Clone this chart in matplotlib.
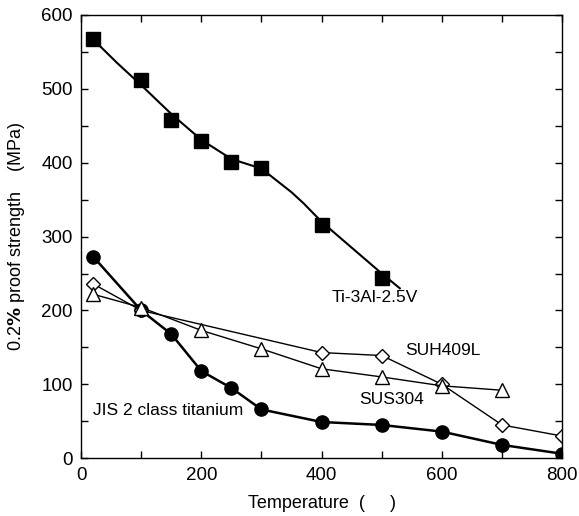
"""0.2% proof strength vs temperature"""
import numpy as np
import matplotlib.pyplot as plt
from matplotlib.ticker import MultipleLocator

plt.rcParams['font.family'] = ['Liberation Sans', 'DejaVu Sans']

# Ti-3Al-2.5V (measured points + smoothed curve)
ti_T = [20, 100, 150, 200, 250, 300, 400, 500]
ti_S = [567, 512, 458, 429, 401, 393, 316, 244]
ti_fit_T = [20, 60, 100, 150, 200, 250, 300, 350, 370, 400, 450, 500, 530]
ti_fit_S = [567, 535, 505, 466, 431, 405, 392, 360, 345, 320, 285, 250, 230]

# JIS 2 class titanium
jis_T = [20, 100, 150, 200, 250, 300, 400, 500, 600, 700, 800]
jis_S = [273, 200, 168, 118, 95, 66, 49, 45, 36, 18, 6]

# SUH409L
suh_T = [20, 100, 400, 500, 600, 700, 800]
suh_S = [236, 200, 143, 139, 100, 45, 30]

# SUS304
sus_T = [20, 100, 200, 300, 400, 500, 600, 700]
sus_S = [222, 204, 173, 148, 121, 110, 98, 92]

fig = plt.figure(figsize=(5.79, 5.16), dpi=100)
ax = fig.add_axes([0.140, 0.112, 0.831, 0.859])

ax.plot(ti_fit_T, ti_fit_S, color='black', lw=1.5)
ax.plot(ti_T, ti_S, ls='none', marker='s', ms=10, color='black')

ax.plot(jis_T, jis_S, color='black', lw=1.8, marker='o', ms=9.5)

ax.plot(suh_T, suh_S, color='black', lw=1.0, marker='D', ms=7,
        mfc='white', mec='black', mew=1.0)
ax.plot(sus_T, sus_S, color='black', lw=1.0, marker='^', ms=10,
        mfc='white', mec='black', mew=1.0)

fs = 12.5
ax.text(489, 217, "Ti-3Al-2.5V", fontsize=fs, ha='center', va='center')
ax.text(602, 146, "SUH409L", fontsize=fs, ha='center', va='center')
ax.text(516, 80, "SUS304", fontsize=fs, ha='center', va='center')
ax.text(145, 65, "JIS 2 class titanium", fontsize=fs, ha='center', va='center')

ax.set_xlim(0, 800)
ax.set_ylim(0, 600)
ax.xaxis.set_major_locator(MultipleLocator(200))
ax.xaxis.set_minor_locator(MultipleLocator(100))
ax.yaxis.set_major_locator(MultipleLocator(100))
ax.yaxis.set_minor_locator(MultipleLocator(50))
ax.tick_params(which='both', direction='in', top=True, right=True,
               length=5, width=1, labelsize=13.5, pad=6)

ax.set_xlabel("Temperature  (     )", fontsize=13, labelpad=8)
ax.set_ylabel(r"0.2$\mathbf{\%}$ proof strength    (MPa)", fontsize=13, labelpad=10)
for s in ax.spines.values():
    s.set_linewidth(1.0)

fig.savefig("out.png", dpi=100)
